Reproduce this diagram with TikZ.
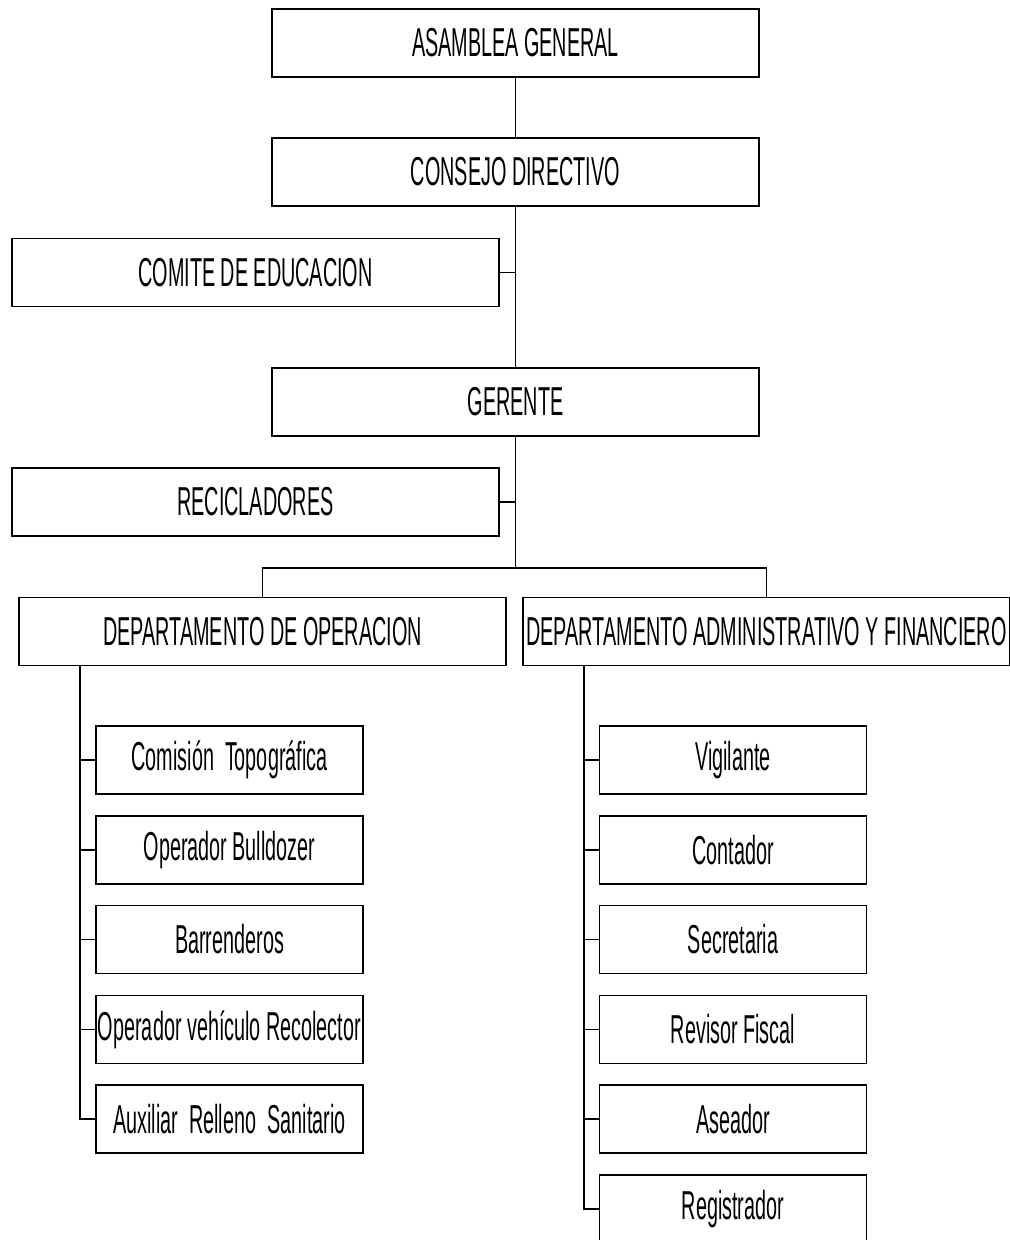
\documentclass[tikz,border=0pt]{standalone}
\usepackage{fontspec}
\setmainfont[FakeStretch=0.49]{Liberation Sans}
\usepackage{tikz}

\begin{document}
\begin{tikzpicture}[x=0.02cm,y=-0.02cm,line width=.8pt,
  bigbox/.style={rectangle,draw=black,minimum width=9.74cm,minimum height=1.36cm,inner sep=0pt,font=\fontsize{23}{27}\selectfont},
  smallbox/.style={rectangle,draw=black,minimum width=5.34cm,minimum height=1.36cm,inner sep=0pt,font=\fontsize{23}{27}\selectfont}]
\useasboundingbox (0,0) rectangle (1010,1240);
\node at (515.5,43) [bigbox] (asamblea) {ASAMBLEA GENERAL};
\node at (515.5,172) [bigbox] (consejo) {CONSEJO DIRECTIVO};
\node at (255.5,272.5) [bigbox] (comite) {COMITE DE EDUCACION};
\node at (515.5,402) [bigbox] (gerente) {GERENTE};
\node at (255.5,502) [bigbox] (recicla) {RECICLADORES};
\node at (262.5,631.5) [bigbox] (depOp) {DEPARTAMENTO DE OPERACION};
\node at (766.5,631.5) [bigbox] (depAdm) {DEPARTAMENTO ADMINISTRATIVO Y FINANCIERO};
% operacion
\node at (229.5,760) [smallbox] (op1) {Comisión\ \ Topográfica};
\node at (229.5,850) [smallbox] (op2) {Operador Bulldozer};
\node at (229.5,939.5) [smallbox] (op3) {Barrenderos};
\node at (229.5,1029.5) [smallbox] (op4) {Operador vehículo Recolector};
\node at (229.5,1119) [smallbox] (op5) {Auxiliar\ \ Relleno\ \ Sanitario};
% administrativo
\node at (733,760) [smallbox] (adm1) {Vigilante};
\node at (733,850) [smallbox] (adm2) {Contador};
\node at (733,939.5) [smallbox] (adm3) {Secretaria};
\node at (733,1029.5) [smallbox] (adm4) {Revisor Fiscal};
\node at (733,1119) [smallbox] (adm5) {Aseador};
\node at (733,1209) [smallbox] (adm6) {Registrador};
\coordinate (bus) at (515.5,568);
\coordinate (spineOp) at (80,665);
\coordinate (spineAdm) at (584,665);
% lines
\draw (asamblea) -- (consejo);
\draw (consejo.south) -- (gerente.north);
\draw (comite.east) -- (comite.east -| consejo.south);
\draw (gerente.south) -- (bus);
\draw (recicla.east) -- (recicla.east -| gerente.south);
\draw (depOp.north) |- (bus) -| (depAdm.north);
\draw (spineOp) |- (op5.west);
\draw (op1.west) -- (op1.west -| spineOp);
\draw (op2.west) -- (op2.west -| spineOp);
\draw (op3.west) -- (op3.west -| spineOp);
\draw (op4.west) -- (op4.west -| spineOp);
\draw (spineAdm) |- (adm6.west);
\draw (adm1.west) -- (adm1.west -| spineAdm);
\draw (adm2.west) -- (adm2.west -| spineAdm);
\draw (adm3.west) -- (adm3.west -| spineAdm);
\draw (adm4.west) -- (adm4.west -| spineAdm);
\draw (adm5.west) -- (adm5.west -| spineAdm);
\end{tikzpicture}
\end{document}
